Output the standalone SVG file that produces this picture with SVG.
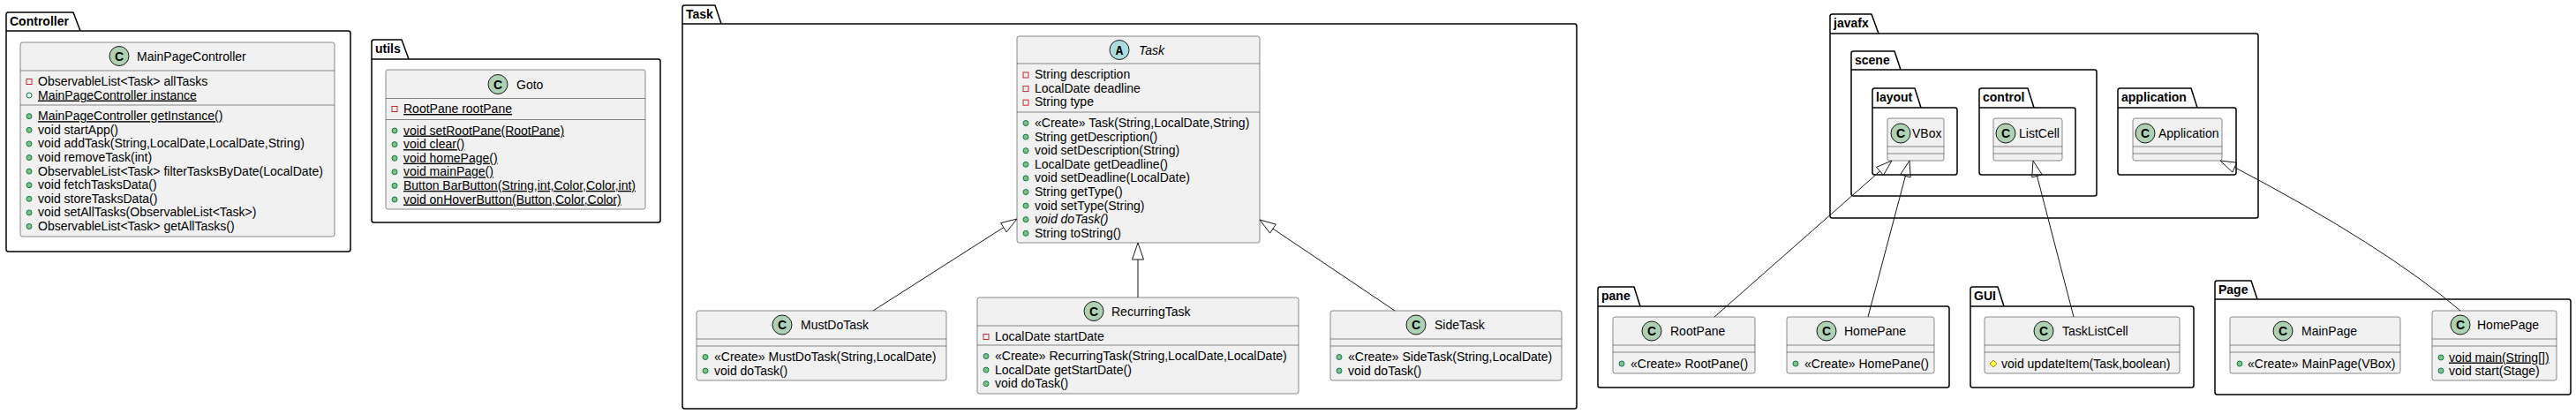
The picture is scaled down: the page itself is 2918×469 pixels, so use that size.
<svg xmlns="http://www.w3.org/2000/svg" width="2918" height="469" viewBox="0 0 2918 469">
<style>
.pkg{fill:none;stroke:#000;stroke-width:1.5;stroke-linejoin:round}
.pt{font-family:"Liberation Sans",Arial,sans-serif;font-size:14px;font-weight:bold;fill:#000}
.cls{fill:#F1F1F1;stroke:#181818;stroke-width:0.5}
.sep{stroke:#181818;stroke-width:0.5}
.t{font-family:"Liberation Sans",Arial,sans-serif;font-size:14px;fill:#000}
.u{text-decoration:underline}
.i{font-style:italic}
.ci{fill:#ADD1B2;stroke:#181818;stroke-width:1}
.ca{fill:#A9DCDF;stroke:#181818;stroke-width:1}
.cl{font-family:"Liberation Sans",Arial,sans-serif;font-size:14px;font-weight:bold;text-anchor:middle;fill:#000}
.al{font-family:"Liberation Mono","Courier New",monospace;font-size:14px;font-weight:bold;text-anchor:middle;fill:#000}
.priv{fill:none;stroke:#C82930;stroke-width:1}
.pub{fill:#84BE84;stroke:#038048;stroke-width:1}
.pubf{fill:none;stroke:#038048;stroke-width:1}
.prot{fill:#FFFF44;stroke:#B38D22;stroke-width:1}
.edge{fill:none;stroke:#181818;stroke-width:1}
.head{fill:none;stroke:#181818;stroke-width:1}
</style>
<rect x="0" y="0" width="2918" height="469" fill="#FFFFFF"/>

<!-- Packages -->
<g id="pkg-Controller">
<path class="pkg" d="M7,16.5 Q7,14 9.5,14 L83,14 L91,35 L394.5,35 Q397,35 397,37.5 L397,282.5 Q397,285 394.5,285 L9.5,285 Q7,285 7,282.5 Z M7,35 L91,35"/>
<text class="pt" x="11" y="29">Controller</text>
</g>
<g id="pkg-utils">
<path class="pkg" d="M421,47.5 Q421,45 423.5,45 L455,45 L463,67 L745.5,67 Q748,67 748,69.5 L748,249.5 Q748,252 745.5,252 L423.5,252 Q421,252 421,249.5 Z M421,67 L463,67"/>
<text class="pt" x="425" y="60">utils</text>
</g>
<g id="pkg-Task">
<path class="pkg" d="M773,8.5 Q773,6 775.5,6 L810,6 L817,27 L1783.5,27 Q1786,27 1786,29.5 L1786,460.5 Q1786,463 1783.5,463 L775.5,463 Q773,463 773,460.5 Z M773,27 L817,27"/>
<text class="pt" x="777" y="21">Task</text>
</g>
<g id="pkg-javafx">
<path class="pkg" d="M2073,18.5 Q2073,16 2075.5,16 L2120,16 L2128,38 L2555.5,38 Q2558,38 2558,40.5 L2558,244.5 Q2558,247 2555.5,247 L2075.5,247 Q2073,247 2073,244.5 Z M2073,38 L2128,38"/>
<text class="pt" x="2077" y="31">javafx</text>
</g>
<g id="pkg-scene">
<path class="pkg" d="M2097,60.5 Q2097,58 2099.5,58 L2146,58 L2153,79 L2372.5,79 Q2375,79 2375,81.5 L2375,219.5 Q2375,222 2372.5,222 L2099.5,222 Q2097,222 2097,219.5 Z M2097,79 L2153,79"/>
<text class="pt" x="2101" y="73">scene</text>
</g>
<g id="pkg-layout">
<path class="pkg" d="M2121,102.5 Q2121,100 2123.5,100 L2169,100 L2176,122 L2214.5,122 Q2217,122 2217,124.5 L2217,195.5 Q2217,198 2214.5,198 L2123.5,198 Q2121,198 2121,195.5 Z M2121,122 L2176,122"/>
<text class="pt" x="2125" y="115">layout</text>
</g>
<g id="pkg-control">
<path class="pkg" d="M2242,102.5 Q2242,100 2244.5,100 L2297,100 L2304,122 L2348.5,122 Q2351,122 2351,124.5 L2351,195.5 Q2351,198 2348.5,198 L2244.5,198 Q2242,198 2242,195.5 Z M2242,122 L2304,122"/>
<text class="pt" x="2246" y="115">control</text>
</g>
<g id="pkg-application">
<path class="pkg" d="M2399,102.5 Q2399,100 2401.5,100 L2482,100 L2489,122 L2530.5,122 Q2533,122 2533,124.5 L2533,195.5 Q2533,198 2530.5,198 L2401.5,198 Q2399,198 2399,195.5 Z M2399,122 L2489,122"/>
<text class="pt" x="2403" y="115">application</text>
</g>
<g id="pkg-pane">
<path class="pkg" d="M1810,327.5 Q1810,325 1812.5,325 L1851,325 L1858,347 L2205.5,347 Q2208,347 2208,349.5 L2208,436.5 Q2208,439 2205.5,439 L1812.5,439 Q1810,439 1810,436.5 Z M1810,347 L1858,347"/>
<text class="pt" x="1814" y="340">pane</text>
</g>
<g id="pkg-GUI">
<path class="pkg" d="M2232,327.5 Q2232,325 2234.5,325 L2263,325 L2270,347 L2482.5,347 Q2485,347 2485,349.5 L2485,436.5 Q2485,439 2482.5,439 L2234.5,439 Q2232,439 2232,436.5 Z M2232,347 L2270,347"/>
<text class="pt" x="2236" y="340">GUI</text>
</g>
<g id="pkg-Page">
<path class="pkg" d="M2509,320.5 Q2509,318 2511.5,318 L2550,318 L2557,339 L2909.5,339 Q2912,339 2912,341.5 L2912,444.5 Q2912,447 2909.5,447 L2511.5,447 Q2509,447 2509,444.5 Z M2509,339 L2557,339"/>
<text class="pt" x="2513" y="333">Page</text>
</g>

<!-- Classes -->
<g id="MainPageController">
<rect class="cls" x="23" y="48" width="356" height="220" rx="2.5"/>
<line class="sep" x1="23" y1="80" x2="379" y2="80"/>
<line class="sep" x1="23" y1="119" x2="379" y2="119"/>
<circle class="ci" cx="135" cy="63.5" r="11"/>
<text class="cl" x="135" y="68.5">C</text>
<text class="t" x="155" y="68.5">MainPageController</text>
<rect class="priv" x="30" y="89.5" width="6" height="6"/>
<text class="t" x="43" y="97">ObservableList&lt;Task&gt; allTasks</text>
<circle class="pubf" cx="33" cy="108" r="3"/>
<text class="t u" x="43" y="112.6">MainPageController instance</text>
<circle class="pub" cx="33" cy="131.7" r="3"/>
<text class="t u" x="43" y="136.2">MainPageController getInstance()</text>
<circle class="pub" cx="33" cy="147.3" r="3"/>
<text class="t" x="43" y="151.8">void startApp()</text>
<circle class="pub" cx="33" cy="162.9" r="3"/>
<text class="t" x="43" y="167.4">void addTask(String,LocalDate,LocalDate,String)</text>
<circle class="pub" cx="33" cy="178.5" r="3"/>
<text class="t" x="43" y="183">void removeTask(int)</text>
<circle class="pub" cx="33" cy="194.1" r="3"/>
<text class="t" x="43" y="198.6">ObservableList&lt;Task&gt; filterTasksByDate(LocalDate)</text>
<circle class="pub" cx="33" cy="209.7" r="3"/>
<text class="t" x="43" y="214.2">void fetchTasksData()</text>
<circle class="pub" cx="33" cy="225.3" r="3"/>
<text class="t" x="43" y="229.8">void storeTasksData()</text>
<circle class="pub" cx="33" cy="240.9" r="3"/>
<text class="t" x="43" y="245.4">void setAllTasks(ObservableList&lt;Task&gt;)</text>
<circle class="pub" cx="33" cy="256.5" r="3"/>
<text class="t" x="43" y="261">ObservableList&lt;Task&gt; getAllTasks()</text>
</g>

<g id="Goto">
<rect class="cls" x="437" y="79" width="294" height="158" rx="2.5"/>
<line class="sep" x1="437" y1="111.5" x2="731" y2="111.5"/>
<line class="sep" x1="437" y1="135.5" x2="731" y2="135.5"/>
<circle class="ci" cx="564" cy="95.5" r="11"/>
<text class="cl" x="564" y="100.5">C</text>
<text class="t" x="585" y="100.5">Goto</text>
<rect class="priv" x="444" y="120.5" width="6" height="6"/>
<text class="t u" x="457" y="128">RootPane rootPane</text>
<circle class="pub" cx="447" cy="148" r="3"/>
<text class="t u" x="457" y="152.5">void setRootPane(RootPane)</text>
<circle class="pub" cx="447" cy="163.6" r="3"/>
<text class="t u" x="457" y="168.1">void clear()</text>
<circle class="pub" cx="447" cy="179.2" r="3"/>
<text class="t u" x="457" y="183.7">void homePage()</text>
<circle class="pub" cx="447" cy="194.8" r="3"/>
<text class="t u" x="457" y="199.3">void mainPage()</text>
<circle class="pub" cx="447" cy="210.4" r="3"/>
<text class="t u" x="457" y="214.9">Button BarButton(String,int,Color,Color,int)</text>
<circle class="pub" cx="447" cy="226" r="3"/>
<text class="t u" x="457" y="230.5">void onHoverButton(Button,Color,Color)</text>
</g>

<g id="Task">
<rect class="cls" x="1152" y="41" width="275" height="234" rx="2.5"/>
<line class="sep" x1="1152" y1="72" x2="1427" y2="72"/>
<line class="sep" x1="1152" y1="127" x2="1427" y2="127"/>
<circle class="ca" cx="1268" cy="56.5" r="11"/>
<text class="al" x="1268" y="61.5">A</text>
<text class="t i" x="1290" y="61.5">Task</text>
<rect class="priv" x="1159" y="82" width="6" height="6"/>
<text class="t" x="1172" y="89">String description</text>
<rect class="priv" x="1159" y="97.6" width="6" height="6"/>
<text class="t" x="1172" y="104.6">LocalDate deadline</text>
<rect class="priv" x="1159" y="113.2" width="6" height="6"/>
<text class="t" x="1172" y="120.2">String type</text>
<circle class="pub" cx="1162" cy="139.5" r="3"/>
<text class="t" x="1172" y="144">«Create» Task(String,LocalDate,String)</text>
<circle class="pub" cx="1162" cy="155.1" r="3"/>
<text class="t" x="1172" y="159.6">String getDescription()</text>
<circle class="pub" cx="1162" cy="170.7" r="3"/>
<text class="t" x="1172" y="175.2">void setDescription(String)</text>
<circle class="pub" cx="1162" cy="186.3" r="3"/>
<text class="t" x="1172" y="190.8">LocalDate getDeadline()</text>
<circle class="pub" cx="1162" cy="201.9" r="3"/>
<text class="t" x="1172" y="206.4">void setDeadline(LocalDate)</text>
<circle class="pub" cx="1162" cy="217.5" r="3"/>
<text class="t" x="1172" y="222">String getType()</text>
<circle class="pub" cx="1162" cy="233.1" r="3"/>
<text class="t" x="1172" y="237.6">void setType(String)</text>
<circle class="pub" cx="1162" cy="248.7" r="3"/>
<text class="t i" x="1172" y="253.2">void doTask()</text>
<circle class="pub" cx="1162" cy="264.3" r="3"/>
<text class="t" x="1172" y="268.8">String toString()</text>
</g>

<g id="MustDoTask">
<rect class="cls" x="789" y="352" width="283" height="79" rx="2.5"/>
<line class="sep" x1="789" y1="384" x2="1072" y2="384"/>
<line class="sep" x1="789" y1="392" x2="1072" y2="392"/>
<circle class="ci" cx="886" cy="368" r="11"/>
<text class="cl" x="886" y="373">C</text>
<text class="t" x="907" y="373">MustDoTask</text>
<circle class="pub" cx="799" cy="404.5" r="3"/>
<text class="t" x="809" y="409">«Create» MustDoTask(String,LocalDate)</text>
<circle class="pub" cx="799" cy="420.1" r="3"/>
<text class="t" x="809" y="424.6">void doTask()</text>
</g>

<g id="RecurringTask">
<rect class="cls" x="1107" y="337" width="364" height="109" rx="2.5"/>
<line class="sep" x1="1107" y1="369" x2="1471" y2="369"/>
<line class="sep" x1="1107" y1="391" x2="1471" y2="391"/>
<circle class="ci" cx="1239" cy="352.5" r="11"/>
<text class="cl" x="1239" y="357.5">C</text>
<text class="t" x="1259" y="357.5">RecurringTask</text>
<rect class="priv" x="1114" y="378.5" width="6" height="6"/>
<text class="t" x="1127" y="386">LocalDate startDate</text>
<circle class="pub" cx="1117" cy="403.5" r="3"/>
<text class="t" x="1127" y="408">«Create» RecurringTask(String,LocalDate,LocalDate)</text>
<circle class="pub" cx="1117" cy="419.1" r="3"/>
<text class="t" x="1127" y="423.6">LocalDate getStartDate()</text>
<circle class="pub" cx="1117" cy="434.7" r="3"/>
<text class="t" x="1127" y="439.2">void doTask()</text>
</g>

<g id="SideTask">
<rect class="cls" x="1507" y="352" width="262" height="79" rx="2.5"/>
<line class="sep" x1="1507" y1="384" x2="1769" y2="384"/>
<line class="sep" x1="1507" y1="392" x2="1769" y2="392"/>
<circle class="ci" cx="1604" cy="368" r="11"/>
<text class="cl" x="1604" y="373">C</text>
<text class="t" x="1625" y="373">SideTask</text>
<circle class="pub" cx="1517" cy="404.5" r="3"/>
<text class="t" x="1527" y="409">«Create» SideTask(String,LocalDate)</text>
<circle class="pub" cx="1517" cy="420.1" r="3"/>
<text class="t" x="1527" y="424.6">void doTask()</text>
</g>

<g id="VBox">
<rect class="cls" x="2138" y="134" width="64" height="48" rx="2.5"/>
<line class="sep" x1="2138" y1="166" x2="2202" y2="166"/>
<line class="sep" x1="2138" y1="174" x2="2202" y2="174"/>
<circle class="ci" cx="2153" cy="151" r="11"/>
<text class="cl" x="2153" y="156">C</text>
<text class="t" x="2166" y="156">VBox</text>
</g>

<g id="ListCell">
<rect class="cls" x="2258" y="134" width="78" height="48" rx="2.5"/>
<line class="sep" x1="2258" y1="166" x2="2336" y2="166"/>
<line class="sep" x1="2258" y1="174" x2="2336" y2="174"/>
<circle class="ci" cx="2272" cy="151" r="11"/>
<text class="cl" x="2272" y="156">C</text>
<text class="t" x="2287" y="156">ListCell</text>
</g>

<g id="Application">
<rect class="cls" x="2416" y="134" width="101" height="48" rx="2.5"/>
<line class="sep" x1="2416" y1="166" x2="2517" y2="166"/>
<line class="sep" x1="2416" y1="174" x2="2517" y2="174"/>
<circle class="ci" cx="2430" cy="151" r="11"/>
<text class="cl" x="2430" y="156">C</text>
<text class="t" x="2445" y="156">Application</text>
</g>

<g id="RootPane">
<rect class="cls" x="1827" y="359" width="161" height="64" rx="2.5"/>
<line class="sep" x1="1827" y1="391" x2="1988" y2="391"/>
<line class="sep" x1="1827" y1="399" x2="1988" y2="399"/>
<circle class="ci" cx="1871" cy="375" r="11"/>
<text class="cl" x="1871" y="380">C</text>
<text class="t" x="1892" y="380">RootPane</text>
<circle class="pub" cx="1837" cy="412" r="3"/>
<text class="t" x="1847" y="416.5">«Create» RootPane()</text>
</g>

<g id="HomePane">
<rect class="cls" x="2024" y="359" width="167" height="64" rx="2.5"/>
<line class="sep" x1="2024" y1="391" x2="2191" y2="391"/>
<line class="sep" x1="2024" y1="399" x2="2191" y2="399"/>
<circle class="ci" cx="2069" cy="375" r="11"/>
<text class="cl" x="2069" y="380">C</text>
<text class="t" x="2089" y="380">HomePane</text>
<circle class="pub" cx="2034" cy="412" r="3"/>
<text class="t" x="2044" y="416.5">«Create» HomePane()</text>
</g>

<g id="TaskListCell">
<rect class="cls" x="2248" y="359" width="221" height="64" rx="2.5"/>
<line class="sep" x1="2248" y1="391" x2="2469" y2="391"/>
<line class="sep" x1="2248" y1="399" x2="2469" y2="399"/>
<circle class="ci" cx="2315" cy="375" r="11"/>
<text class="cl" x="2315" y="380">C</text>
<text class="t" x="2336" y="380">TaskListCell</text>
<polygon class="prot" points="2258,408 2262,412 2258,416 2254,412"/>
<text class="t" x="2267" y="416.5">void updateItem(Task,boolean)</text>
</g>

<g id="MainPage">
<rect class="cls" x="2526" y="359" width="193" height="64" rx="2.5"/>
<line class="sep" x1="2526" y1="391" x2="2719" y2="391"/>
<line class="sep" x1="2526" y1="399" x2="2719" y2="399"/>
<circle class="ci" cx="2586" cy="375" r="11"/>
<text class="cl" x="2586" y="380">C</text>
<text class="t" x="2607" y="380">MainPage</text>
<circle class="pub" cx="2537" cy="412" r="3"/>
<text class="t" x="2546" y="416.5">«Create» MainPage(VBox)</text>
</g>

<g id="HomePage">
<rect class="cls" x="2755" y="352" width="141" height="79" rx="2.5"/>
<line class="sep" x1="2755" y1="384" x2="2896" y2="384"/>
<line class="sep" x1="2755" y1="392" x2="2896" y2="392"/>
<circle class="ci" cx="2787" cy="368" r="11"/>
<text class="cl" x="2787" y="373">C</text>
<text class="t" x="2806" y="373">HomePage</text>
<circle class="pub" cx="2765" cy="405" r="3"/>
<text class="t u" x="2774" y="409.5">void main(String[])</text>
<circle class="pub" cx="2765" cy="420" r="3"/>
<text class="t" x="2774" y="424.5">void start(Stage)</text>
</g>

<!-- Connectors -->
<g id="connectors">
<path class="edge" d="M989,352 L1136.8,257.7"/>
<polygon class="head" points="1152,248 1140.1,262.8 1133.6,252.6"/>
<path class="edge" d="M1289,337 L1289,294"/>
<polygon class="head" points="1289,275 1295.5,294 1282.5,294"/>
<path class="edge" d="M1580,352 L1441.9,259.1"/>
<polygon class="head" points="1427,249 1445.3,254.1 1438.6,264.1"/>
<path class="edge" d="M1942,359 L2129.5,193.9"/>
<polygon class="head" points="2143,182 2133.5,198.4 2125.5,189.4"/>
<path class="edge" d="M2116,359 L2158.4,199.4"/>
<polygon class="head" points="2163,182 2164.2,200.9 2152.6,197.9"/>
<path class="edge" d="M2349,359 L2307.5,199.4"/>
<polygon class="head" points="2303,182 2313.3,197.9 2301.7,200.9"/>
<path class="edge" d="M2787,352 Q2700,278 2531.3,189.6"/>
<polygon class="head" points="2515,182 2533.8,184.2 2528.8,195"/>
</g>
</svg>
